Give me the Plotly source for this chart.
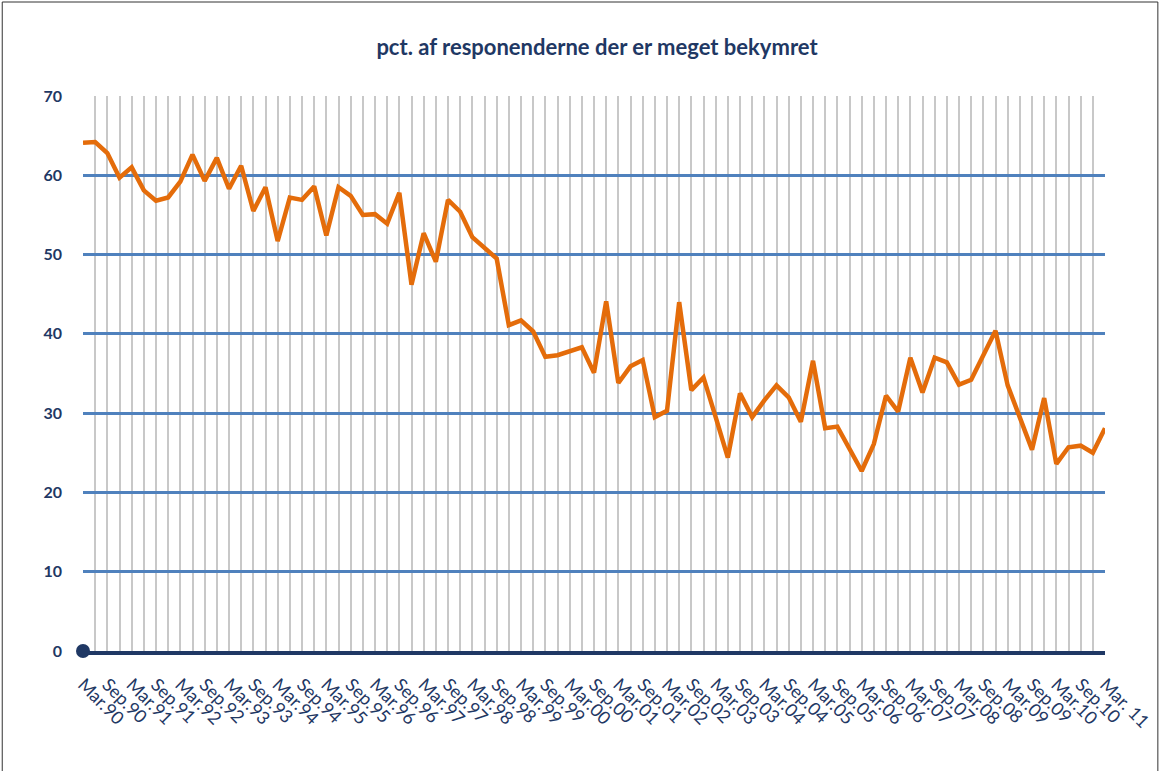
import plotly.graph_objects as go

title_text = "pct. af responenderne der er meget bekymret"

years = ["90", "91", "92", "93", "94", "95", "96", "97", "98", "99", "00",
         "01", "02", "03", "04", "05", "06", "07", "08", "09", "10", "11"]
quarters = ["Mar", "Jun", "Sep", "Dec"]
categories = [f"{q}.{y}" for y in years[:-1] for q in quarters] + ["Mar.11"]

values = [64.1, 64.2, 62.8, 59.7, 61.0, 58.1, 56.8, 57.2, 59.2, 62.6,
          59.3, 62.2, 58.3, 61.2, 55.5, 58.5, 51.7, 57.2, 56.9, 58.6,
          52.4, 58.5, 57.4, 55.0, 55.1, 53.9, 57.8, 46.2, 52.7, 49.1,
          56.9, 55.4, 52.2, 50.9, 49.5, 41.1, 41.7, 40.3, 37.1, 37.3,
          37.8, 38.3, 35.1, 44.1, 33.8, 35.9, 36.7, 29.5, 30.3, 44.0,
          32.9, 34.5, 29.5, 24.4, 32.5, 29.5, 31.6, 33.5, 32.0, 28.9,
          36.6, 28.1, 28.3, 25.4, 22.7, 26.1, 32.2, 30.2, 37.0, 32.6,
          37.0, 36.4, 33.6, 34.2, 37.3, 40.4, 33.5, 29.4, 25.4, 31.9,
          23.6, 25.7, 25.9, 25.0, 28.1]

tick_labels = ["Mar.90", "Sep.90", "Mar.91", "Sep.91", "Mar.92", "Sep.92",
               "Mar.93", "Sep.93", "Mar.94", "Sep.94", "Mar.95", "Sep.95",
               "Mar.96", "Sep.96", "Mar.97", "Sep.97", "Mar.98", "Sep.98",
               "Mar.99", "Sep.99", "Mar.00", "Sep.00", "Mar.01", "Sep.01",
               "Mar.02", "Sep.02", "Mar.03", "Sep.03", "Mar.04", "Sep.04",
               "Mar.05", "Sep.05", "Mar.06", "Sep.06", "Mar.07", "Sep.07",
               "Mar.08", "Sep.08", "Mar.09", "Sep.09", "Mar.10", "Sep.10",
               "Mar. 11"]

y_ticks = [0, 10, 20, 30, 40, 50, 60, 70]

W, H = 1166, 771
L, R, T, B = 83, 58, 96, 120
NAVY = "#1f3864"

ticktext = []
k = 0
for i, c in enumerate(categories):
    if i % 2 == 0:
        ticktext.append(tick_labels[k])
        k += 1
    else:
        ticktext.append("")

fig = go.Figure()
fig.add_trace(go.Scatter(
    x=categories, y=values, mode="lines",
    line=dict(color="#e46c0a", width=4.5),
    showlegend=False, hoverinfo="x+y"))

fig.add_trace(go.Scatter(
    x=[categories[0]], y=[0], mode="markers",
    marker=dict(color=NAVY, size=14),
    cliponaxis=False, showlegend=False, hoverinfo="skip"))

fig.update_layout(
    width=W, height=H,
    margin=dict(l=L, r=R, t=T, b=B),
    paper_bgcolor="white", plot_bgcolor="white",
    title=dict(text=title_text, x=597 / W, xanchor="center",
               y=1 - 47 / H, yanchor="middle",
               font=dict(family="Lato", size=22, color=NAVY, weight="bold")),
    xaxis=dict(
        type="category", categoryorder="array", categoryarray=categories,
        range=[0, len(categories) - 1],
        tickmode="array", tickvals=categories, ticktext=ticktext,
        tickangle=45, showgrid=True, gridcolor="#c8c8c8", gridwidth=1.5,
        ticks="", showline=True, linecolor=NAVY, linewidth=4,
        zeroline=False, layer="above traces",
        tickfont=dict(family="Lato", size=18, color=NAVY),
        ticklabelstandoff=12,
    ),
    yaxis=dict(
        range=[0, 70], tickvals=y_ticks,
        showgrid=True, gridcolor="#4f81bd", gridwidth=2.5,
        zeroline=False, showline=False, ticks="",
        tickfont=dict(family="Lato", size=16, color=NAVY, weight="bold"),
        ticklabelstandoff=20,
    ),
)

# outer frame
pw, ph = W - L - R, H - T - B
fig.add_shape(type="rect", xref="paper", yref="paper",
              x0=(2 - L) / pw, x1=(1161 - L) / pw,
              y0=(H - B - 775) / ph, y1=(H - B - 2) / ph,
              line=dict(color="#333333", width=1), layer="below")

fig.write_html("out.html",
               config={"displayModeBar": False},
               post_script="document.body.style.margin='0';document.body.style.overflow='hidden';")
